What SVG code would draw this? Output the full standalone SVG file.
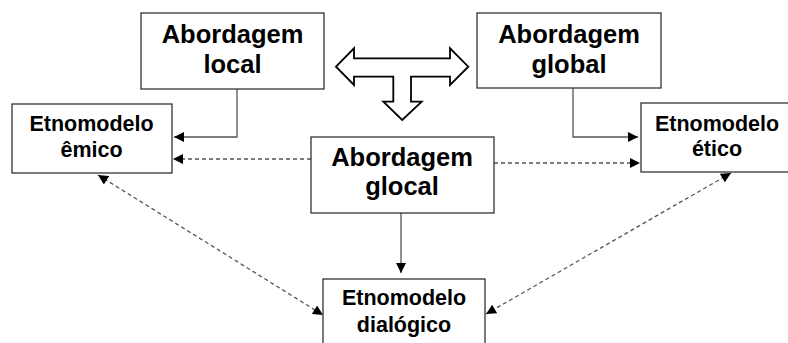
<svg xmlns="http://www.w3.org/2000/svg" width="788" height="343" viewBox="0 0 788 343">
<defs>
<style>
.box{fill:#fff;stroke:#333;stroke-width:1.3}
.t1{font-family:"Liberation Sans",Arial,sans-serif;font-weight:bold;font-size:25.5px;fill:#000;text-anchor:middle}
.t2{font-family:"Liberation Sans",Arial,sans-serif;font-weight:bold;font-size:21.5px;fill:#000;text-anchor:middle}
.solid{fill:none;stroke:#555;stroke-width:1.3}
.dash{fill:none;stroke:#555;stroke-width:1.3;stroke-dasharray:4 3}
</style>
<marker id="ah" viewBox="0 0 10 10" refX="10" refY="5" markerWidth="11" markerHeight="10" markerUnits="userSpaceOnUse" orient="auto-start-reverse">
<path d="M0,0 L10,5 L0,10 Z" fill="#000"/>
</marker>
</defs>
<rect width="788" height="343" fill="#fff"/>
<g id="connectors">
<polyline class="solid" points="237,89 237,137 174,137" marker-end="url(#ah)"/>
<polyline class="solid" points="573,88 573,137 638,137" marker-end="url(#ah)"/>
<line class="dash" x1="311" y1="159" x2="173" y2="159" marker-end="url(#ah)"/>
<line class="dash" x1="494" y1="163" x2="640" y2="163" marker-end="url(#ah)"/>
<line class="solid" x1="401" y1="213" x2="401" y2="273" marker-end="url(#ah)"/>
<line class="dash" x1="98" y1="175" x2="323" y2="315" marker-start="url(#ah)" marker-end="url(#ah)"/>
<line class="dash" x1="731" y1="173" x2="486" y2="314" marker-start="url(#ah)" marker-end="url(#ah)"/>
</g>
<g id="double-arrow">
<polygon points="336,66.7 354,48.3 354,58.3 450,58.3 450,48.3 468.3,66.7 450,85 450,76.7 411,76.7 411,101.7 421.7,101.7 402.2,120 383.3,101.7 393.3,101.7 393.3,76.7 354,76.7 354,85" fill="#fff" stroke="#000" stroke-width="1.8" stroke-linejoin="miter"/>
</g>
<g id="abordagem-local">
<rect class="box" x="141" y="13" width="183" height="76"/>
<text class="t1" x="232.5" y="43">Abordagem</text>
<text class="t1" x="232.5" y="72.5">local</text>
</g>
<g id="abordagem-global">
<rect class="box" x="477" y="13" width="184" height="75"/>
<text class="t1" x="569" y="43">Abordagem</text>
<text class="t1" x="569" y="72.5">global</text>
</g>
<g id="etnomodelo-emico">
<rect class="box" x="12" y="104" width="160" height="69"/>
<text class="t2" x="91.5" y="131">Etnomodelo</text>
<text class="t2" x="91.5" y="157">êmico</text>
</g>
<g id="etnomodelo-etico">
<rect class="box" x="641" y="103" width="152" height="69"/>
<text class="t2" x="717" y="131">Etnomodelo</text>
<text class="t2" x="717" y="156">ético</text>
</g>
<g id="abordagem-glocal">
<rect class="box" x="311" y="137" width="183" height="76"/>
<text class="t1" x="402" y="166">Abordagem</text>
<text class="t1" x="402" y="195">glocal</text>
</g>
<g id="etnomodelo-dialogico">
<rect class="box" x="323" y="279" width="162" height="70"/>
<text class="t2" x="404" y="305">Etnomodelo</text>
<text class="t2" x="404" y="332">dialógico</text>
</g>
</svg>
